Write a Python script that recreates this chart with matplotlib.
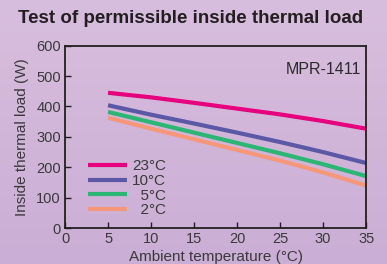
import numpy as np
import matplotlib
matplotlib.use("Agg")
import matplotlib.pyplot as plt
from matplotlib.colors import LinearSegmentedColormap

# ambient temperature (deg C)
ambient = [5, 10, 15, 20, 25, 30, 35]

# permissible inside thermal load (W) per set temperature
load_23 = [445, 430, 412, 393, 374, 352, 327]
load_10 = [404, 373, 344, 314, 283, 250, 214]
load_5 = [382, 348, 314, 280, 246, 210, 171]
load_2 = [363, 327, 292, 257, 222, 183, 140]

series_labels = ["23°C", "10°C", "\u20075°C", "\u20072°C"]
series_colors = ["#E6007E", "#5B58A6", "#2BB673", "#F7977A"]

xticks = [0, 5, 10, 15, 20, 25, 30, 35]
yticks = [0, 100, 200, 300, 400, 500, 600]

plt.rcParams['font.family'] = ['Liberation Sans', 'DejaVu Sans']
text_color = "#2b2b2b"

fig = plt.figure(figsize=(3.87, 2.64), dpi=100)

# soft lavender gradient background
bg = fig.add_axes([0, 0, 1, 1], zorder=-10)
cmap = LinearSegmentedColormap.from_list("bg", ["#D8BEDE", "#CBAED5"])
bg.imshow(np.linspace(0, 1, 100).reshape(-1, 1), aspect="auto", cmap=cmap,
          extent=(0, 1, 0, 1))
bg.set_axis_off()

ax = fig.add_axes([0.168, 0.136, 0.778, 0.691])
ax.patch.set_alpha(0)

for vals, lab, col in zip([load_23, load_10, load_5, load_2], series_labels, series_colors):
    ax.plot(ambient, vals, color=col, lw=3.0, label=lab, solid_capstyle="butt")

ax.set_xlim(0, 35)
ax.set_ylim(0, 600)
ax.set_xticks(xticks)
ax.set_yticks(yticks)
ax.tick_params(direction="in", length=4, width=1, color="#231F20",
               labelsize=10.5, labelcolor="#3a3a3a", pad=3)
for sp in ax.spines.values():
    sp.set_linewidth(1.3)
    sp.set_color("#231F20")

ax.set_xlabel("Ambient temperature (°C)", fontsize=11, color="#3a3a3a", labelpad=3)
ax.set_ylabel("Inside thermal load (W)", fontsize=11, color="#3a3a3a", labelpad=5)

ax.text(0.985, 0.867, "MPR-1411", transform=ax.transAxes, ha="right", va="center",
        fontsize=11.5, color=text_color)

leg = ax.legend(loc="lower left", bbox_to_anchor=(0.055, 0.025), frameon=False,
                handlelength=2.6, handletextpad=0.3, labelspacing=0.05,
                fontsize=11, borderaxespad=0)
for t in leg.get_texts():
    t.set_color("#3a3a3a")

fig.text(0.047, 0.93, "Test of permissible inside thermal load", ha="left", va="center",
         fontsize=13.5, fontweight="bold", color="#231F20",
         family=['Liberation Sans Narrow', 'Liberation Sans', 'DejaVu Sans'])

fig.savefig("out.png", dpi=100)
